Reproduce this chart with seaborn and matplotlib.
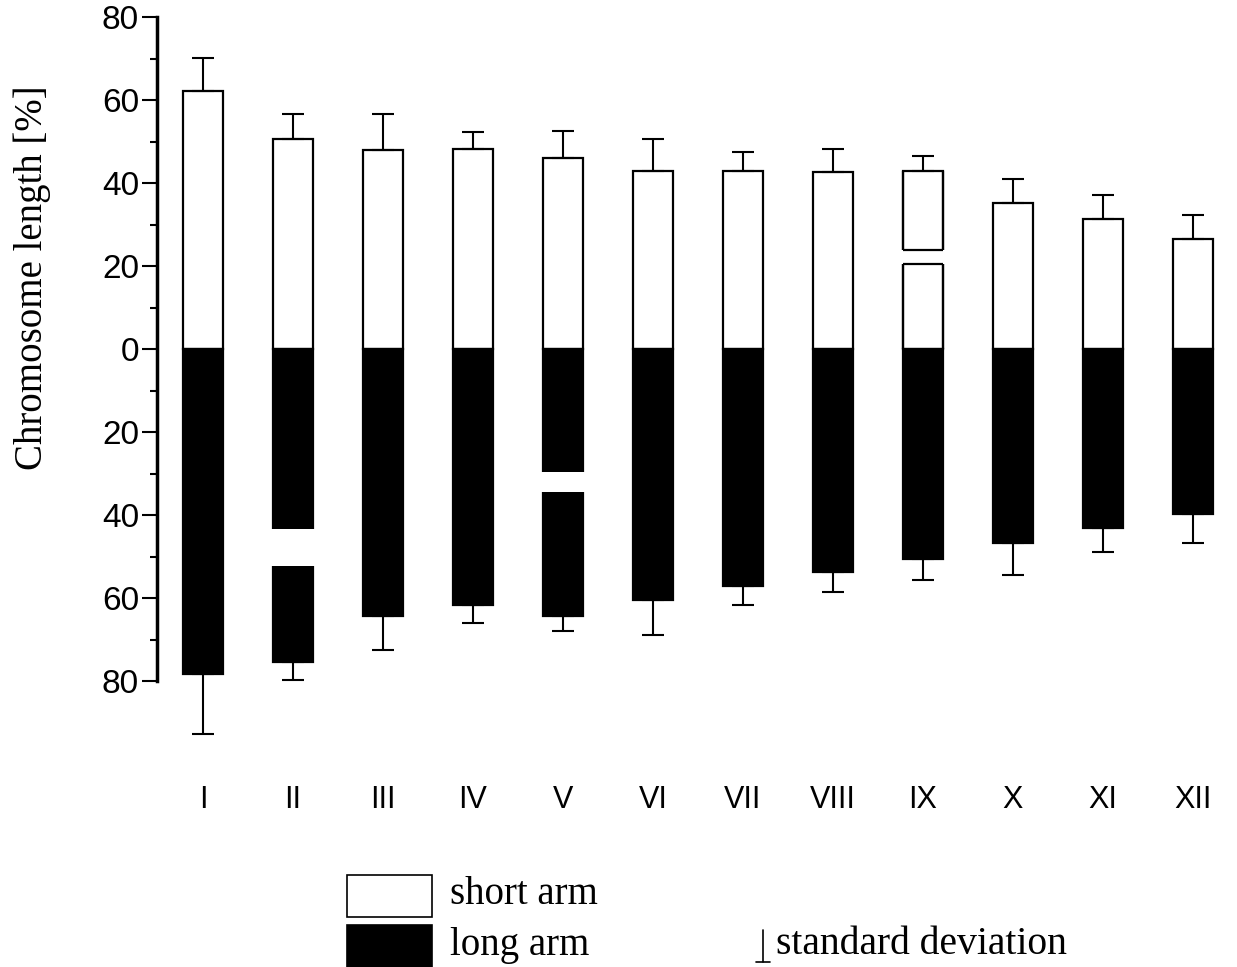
import matplotlib
matplotlib.use("Agg")
import matplotlib.pyplot as plt
from matplotlib.lines import Line2D
from matplotlib.patches import Rectangle
import numpy as np
import pandas as pd
import seaborn as sns

# chromosome pairs and relative arm lengths [%]
chromosomes = ["I", "II", "III", "IV", "V", "VI", "VII", "VIII", "IX", "X", "XI", "XII"]
short_arm = [62.2, 50.6, 48.0, 48.2, 46.0, 42.9, 42.9, 42.7, 42.9, 35.2, 31.3, 26.5]
short_sd = [7.9, 6.0, 8.6, 4.1, 6.5, 7.7, 4.6, 5.5, 3.6, 5.8, 5.8, 5.8]
long_arm = [78.3, 75.4, 64.3, 61.7, 64.3, 60.5, 57.1, 53.7, 50.6, 46.7, 43.1, 39.8]
long_sd = [14.5, 4.4, 8.2, 4.3, 3.7, 8.4, 4.6, 4.9, 5.1, 7.8, 5.8, 6.9]

# secondary constrictions (gaps): chromosome index, arm, from, to
gap_chrom = [1, 4, 8]
gap_arm = ["long", "long", "short"]
gap_from = [43.4, 29.6, 20.5]
gap_to = [52.3, 34.5, 23.9]

df = pd.DataFrame({"chrom": chromosomes, "short": short_arm,
                   "long": [-v for v in long_arm]})

sns.set_style("white")
plt.rcParams["font.family"] = ["Liberation Sans", "DejaVu Sans"]
plt.rcParams["text.color"] = "black"
plt.rcParams["xtick.color"] = "black"
plt.rcParams["ytick.color"] = "black"

fig = plt.figure(figsize=(12.37, 9.67), dpi=100)
ax = fig.add_axes([0.1269, 0.2099, 0.8666, 0.7811])

bw = 0.44
sns.barplot(data=df, x="chrom", y="short", color="white", edgecolor="black",
            linewidth=1.6, width=bw, saturation=1, ax=ax)
sns.barplot(data=df, x="chrom", y="long", color="black", edgecolor="black",
            linewidth=1.6, width=bw, saturation=1, ax=ax)

xs = np.arange(len(chromosomes))
# error bars, drawn only outward
ax.errorbar(xs, short_arm, yerr=[np.zeros(len(xs)), short_sd], fmt="none",
            ecolor="black", elinewidth=1.5, capsize=8, capthick=1.5, zorder=1)
ax.errorbar(xs, -np.array(long_arm), yerr=[long_sd, np.zeros(len(xs))], fmt="none",
            ecolor="black", elinewidth=1.5, capsize=8, capthick=1.5, zorder=1)

# cut the gaps out of the bars
for c, arm, lo, hi in zip(gap_chrom, gap_arm, gap_from, gap_to):
    if arm == "long":
        lo, hi = -hi, -lo
    ax.bar(c, hi - lo, bottom=lo, width=bw + 0.04, color="white",
           edgecolor="white", linewidth=0, zorder=3)
    if arm == "short":
        ax.hlines([lo, hi], c - bw / 2, c + bw / 2, color="black", lw=1.6, zorder=4)
        ax.vlines([c - bw / 2, c + bw / 2], 0, lo, color="black", lw=1.6, zorder=4)
        ax.vlines([c - bw / 2, c + bw / 2], hi, short_arm[c], color="black", lw=1.6, zorder=4)

ax.set_xlim(-0.511, 11.4)
ax.set_ylim(-100, 82)
yt = np.arange(-80, 81, 20)
ax.set_yticks(yt)
ax.set_yticklabels([str(abs(v)) for v in yt])
ax.set_yticks(np.arange(-70, 71, 20), minor=True)
ax.tick_params(axis="y", which="major", direction="out", length=11, width=1.5,
               labelsize=24, pad=2, left=True)
ax.tick_params(axis="y", which="minor", direction="out", length=5, width=1.5, left=True)
ax.tick_params(axis="x", length=0, pad=15, labelsize=22)

for s in ["top", "right", "bottom"]:
    ax.spines[s].set_visible(False)
ax.spines["left"].set_bounds(-80, 80)
ax.spines["left"].set_linewidth(2.5)
ax.spines["left"].set_color("black")
ax.set_xlabel("")
ax.set_ylabel("")
fig.text(32 / 1237, 1 - 278 / 967, "Chromosome length [%]", fontsize=28,
         rotation=90, ha="center", va="center", family=["Liberation Serif"])

# legend drawn below the chart
fig.add_artist(Rectangle((347 / 1237, 1 - 917 / 967), 85 / 1237, 42 / 967,
                         facecolor="white", edgecolor="black", lw=1.2,
                         transform=fig.transFigure))
fig.add_artist(Rectangle((347 / 1237, 0), 85 / 1237, 42 / 967,
                         facecolor="black", edgecolor="black", lw=1.2,
                         transform=fig.transFigure))
fig.text(450 / 1237, 1 - 895 / 967, "short arm", fontsize=28, va="center",
         family=["Liberation Serif"])
fig.text(450 / 1237, 1 - 945 / 967, "long arm", fontsize=28, va="center",
         family=["Liberation Serif"])
fig.text(776 / 1237, 1 - 945 / 967, "standard deviation", fontsize=28.5, va="center",
         family=["Liberation Serif"])
fig.add_artist(Line2D([763 / 1237, 763 / 1237], [1 - 930 / 967, 1 - 962 / 967],
                      color="black", lw=1.2, transform=fig.transFigure))
fig.add_artist(Line2D([756 / 1237, 770 / 1237], [1 - 962 / 967, 1 - 962 / 967],
                      color="black", lw=1.2, transform=fig.transFigure))

fig.savefig("out.png", dpi=100)
